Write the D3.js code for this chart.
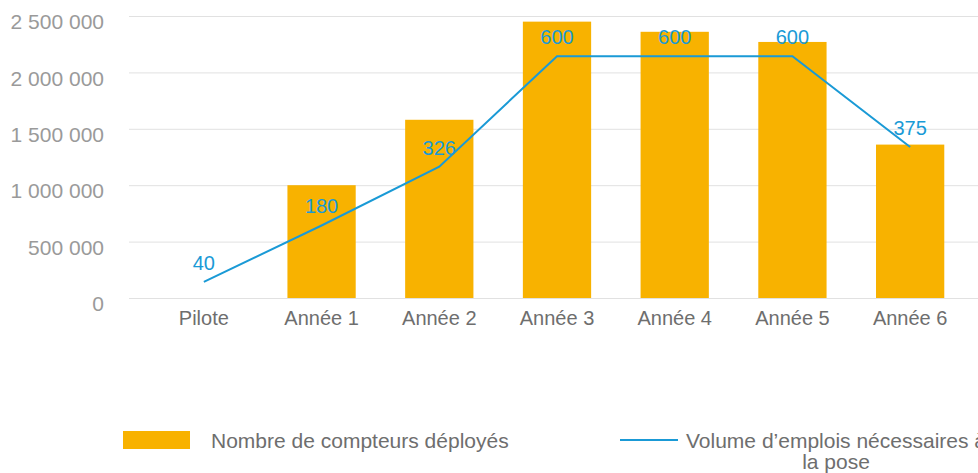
<!DOCTYPE html>
<html lang="fr">
<head>
    <meta charset="UTF-8">
    <title>compteurs</title>
    <script src="https://cdn.jsdelivr.net/npm/d3@7"></script>
    <style>
        body { margin: 0; background: #fff; }
        text { font-family: "Liberation Sans", Arial, sans-serif; }
        .y_Axis text { fill: #9a9a9a; font-size: 21px; }
        .x_Axis text { fill: #6e6e6e; font-size: 20px; }
        .y_Axis path, .y_Axis line, .x_Axis path, .x_Axis line { display: none; }
    </style>
</head>
<body>
<script>
    let width = 978;
    let height = 473;

    // données
    let categories = ["Pilote", "Année 1", "Année 2", "Année 3", "Année 4", "Année 5", "Année 6"];
    let compteurs = [0, 1000000, 1580000, 2450000, 2360000, 2270000, 1360000];
    let emplois = [40, 180, 326, 600, 600, 600, 375];
    let yTicks = [0, 500000, 1000000, 1500000, 2000000, 2500000];

    let barColor = "#F8B200";
    let lineColor = "#1A9AD6";

    let fr = d3.formatLocale({decimal: ",", thousands: " ", grouping: [3], currency: ["", " €"]});
    let fmt = fr.format(",");

    let svg = d3.select("body")
        .append("svg")
        .attr("width", width)
        .attr("height", height);

    let xScale = d3.scaleBand()
        .domain(categories)
        .range([145, 969])
        .paddingInner(0.42)
        .paddingOuter(0.21);

    let yScale = d3.scaleLinear()
        .domain([0, 2500000])
        .range([298, 16]);

    // axe secondaire (non affiché)
    let y2Scale = d3.scaleLinear()
        .domain([0, 700])
        .range([298, 16]);

    // grille
    svg.append("g")
        .selectAll("line")
        .data(yTicks)
        .enter()
        .append("line")
        .attr("x1", 129)
        .attr("x2", width)
        .attr("y1", d => yScale(d) + 0.5)
        .attr("y2", d => yScale(d) + 0.5)
        .attr("stroke", "#e1e1e1")
        .attr("stroke-width", 1);

    svg.append("g")
        .attr("class", "y_Axis")
        .attr("transform", "translate(104,0)")
        .call(d3.axisLeft(yScale).tickValues(yTicks).tickFormat(fmt).tickSize(0).tickPadding(0))
        .selectAll("text")
        .attr("dy", "0.6em");

    svg.append("g")
        .attr("class", "x_Axis")
        .attr("transform", "translate(0,298)")
        .call(d3.axisBottom(xScale).tickSize(0).tickPadding(8))
        .selectAll("text")
        .attr("dy", "0.95em");

    // barres
    svg.append("g")
        .selectAll("rect")
        .data(compteurs)
        .enter()
        .append("rect")
        .attr("x", (d, i) => xScale(categories[i]))
        .attr("width", xScale.bandwidth())
        .attr("y", d => yScale(d))
        .attr("height", d => yScale(0) - yScale(d))
        .attr("fill", barColor);

    // ligne
    let line = d3.line()
        .x((d, i) => xScale(categories[i]) + xScale.bandwidth() / 2)
        .y(d => y2Scale(d));

    svg.append("path")
        .attr("d", line(emplois))
        .attr("fill", "none")
        .attr("stroke", lineColor)
        .attr("stroke-width", 2);

    svg.append("g")
        .selectAll("text")
        .data(emplois)
        .enter()
        .append("text")
        .text(d => d)
        .attr("x", (d, i) => xScale(categories[i]) + xScale.bandwidth() / 2)
        .attr("y", d => y2Scale(d) - 12)
        .attr("text-anchor", "middle")
        .attr("font-size", "20px")
        .attr("fill", lineColor);

    // légende
    let legend = svg.append("g");

    legend.append("rect")
        .attr("x", 123)
        .attr("y", 431)
        .attr("width", 67)
        .attr("height", 18)
        .attr("fill", barColor);

    legend.append("text")
        .text("Nombre de compteurs déployés")
        .attr("x", 211)
        .attr("y", 448)
        .attr("font-size", "21px")
        .attr("fill", "#6e6e6e");

    legend.append("line")
        .attr("x1", 620)
        .attr("x2", 678)
        .attr("y1", 440)
        .attr("y2", 440)
        .attr("stroke", lineColor)
        .attr("stroke-width", 2);

    let lt = legend.append("text")
        .attr("text-anchor", "middle")
        .attr("font-size", "21px")
        .attr("fill", "#6e6e6e");
    lt.append("tspan").attr("x", 836).attr("y", 448).text("Volume d’emplois nécessaires à");
    lt.append("tspan").attr("x", 836).attr("y", 469).text("la pose");
</script>
</body>
</html>
